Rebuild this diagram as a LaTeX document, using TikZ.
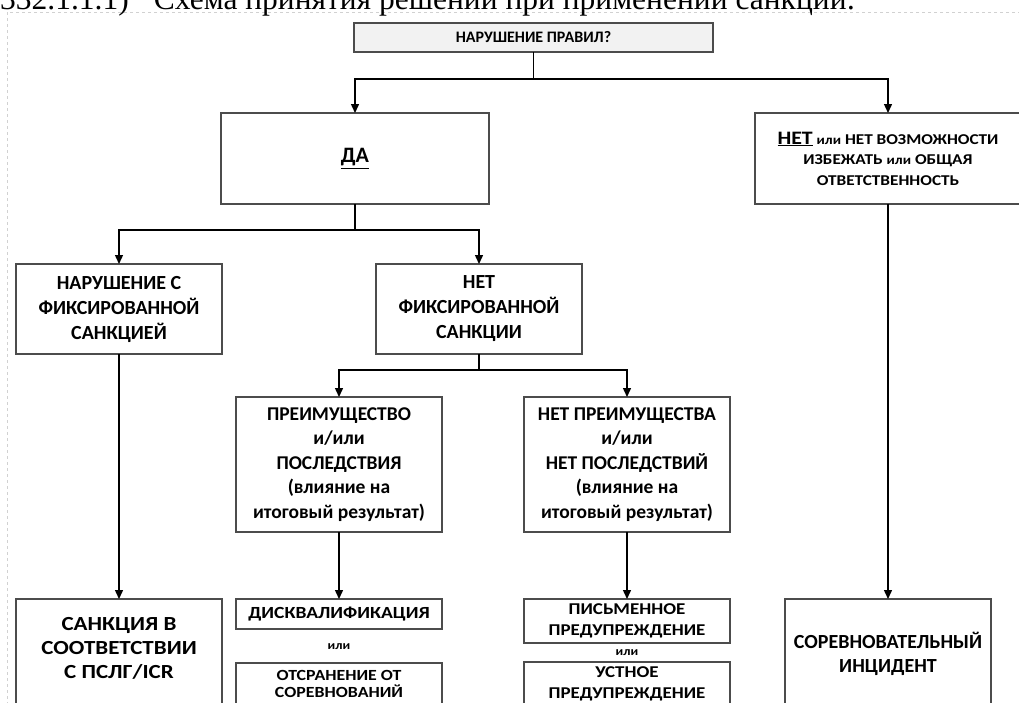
\documentclass[tikz,border=0pt]{standalone}
\usepackage{fontspec}
\setmainfont{Carlito}
\newfontfamily\widefont{Carlito}[FakeStretch=1.15]
\newfontfamily\titlefont{Liberation Serif}
\usetikzlibrary{arrows.meta}

\begin{document}
\begin{tikzpicture}[x=1pt,y=-1pt,
  box/.style={draw=black!70, line width=1.4pt, inner sep=0pt, outer sep=0pt, align=center,
    font=\bfseries\fontsize{20}{25}\selectfont, minimum width=206pt, minimum height=90pt},
  small/.style={font=\widefont\bfseries\fontsize{16.5}{21}\selectfont},
  ili/.style={font=\widefont\bfseries\fontsize{12}{14}\selectfont, inner sep=0pt},
  ln/.style={draw, line width=1.4pt},
  arr/.style={draw, line width=1.4pt, -{Triangle[length=9pt,width=8pt]}}]
\useasboundingbox (0,0) rectangle (1019,702);
\clip (0,0) rectangle (1019,702);
\draw[black!18, dashed, line width=0.8pt] (7,12) rectangle (1040,740);
\node[anchor=base west, inner sep=0pt, font=\titlefont\fontsize{31.5}{36}\selectfont] (0) at (0,9) {332.1.1.1)\hspace{25pt}Схема принятия решений при применении санкции:};
\node[box, fill=black!5, minimum width=359pt, minimum height=29pt, font=\bfseries\fontsize{16}{18}\selectfont] (1) at (533.5,37.5) {НАРУШЕНИЕ ПРАВИЛ?};
\node[box, minimum width=268pt, minimum height=91pt, font=\bfseries\fontsize{22}{25}\selectfont] (2) at (355,158.5) {\underline{ДА}};
\node[box, minimum width=266pt, minimum height=91pt, font=\widefont\bfseries\fontsize{15}{20.5}\selectfont] (3) at (888,158.5)
  {{\fontsize{19}{21}\selectfont\underline{НЕТ}} {\fontsize{13}{15}\selectfont или} НЕТ ВОЗМОЖНОСТИ\\ИЗБЕЖАТЬ {\fontsize{13}{15}\selectfont или} ОБЩАЯ\\ОТВЕТСТВЕННОСТЬ};
\node[box] (4) at (119,309) {НАРУШЕНИЕ С\\ФИКСИРОВАННОЙ\\САНКЦИЕЙ};
\node[box] (5) at (479,309) {НЕТ\\ФИКСИРОВАННОЙ\\САНКЦИИ};
\node[box, minimum height=135pt, font=\bfseries\fontsize{19.5}{24.4}\selectfont] (6) at (339,464.5) {ПРЕИМУЩЕСТВО\\и/или\\ПОСЛЕДСТВИЯ\\(влияние на\\итоговый результат)};
\node[box, minimum height=135pt, font=\bfseries\fontsize{19.5}{24.4}\selectfont] (7) at (627,464.5) {НЕТ ПРЕИМУЩЕСТВА\\и/или\\НЕТ ПОСЛЕДСТВИЙ\\(влияние на\\итоговый результат)};
\node[box, anchor=north, minimum height=0pt, text height=79.4pt, text depth=41.6pt, font=\widefont\bfseries\fontsize{20}{24}\selectfont] (8) at (119,599) {САНКЦИЯ В\\СООТВЕТСТВИИ\\С ПСЛГ/ICR};
\node[box, small, minimum height=30pt, font=\widefont\bfseries\fontsize{17}{21}\selectfont] (9) at (339,614) {ДИСКВАЛИФИКАЦИЯ};
\node[ili] (10) at (339,647) {или};
\node[box, anchor=north, minimum height=42pt, font=\widefont\bfseries\fontsize{15.5}{16.7}\selectfont] (11) at (339,663) {ОТСРАНЕНИЕ ОТ\\СОРЕВНОВАНИЙ};
\node[box, small, minimum height=44pt] (12) at (627,621) {ПИСЬМЕННОЕ\\ПРЕДУПРЕЖДЕНИЕ};
\node[ili] (13) at (627,653) {или};
\node[box, small, anchor=north, minimum height=44pt] (14) at (627,662) {УСТНОЕ\\ПРЕДУПРЕЖДЕНИЕ};
\node[box, anchor=north, minimum height=110pt, font=\bfseries\fontsize{20}{24}\selectfont] (15) at (888,599) {СОРЕВНОВАТЕЛЬНЫЙ\\ИНЦИДЕНТ};
\coordinate (a) at (533.5,79);
\coordinate (b) at (355,230);
\coordinate (c) at (479,370);
\path[ln] (1) -- (a);
\path[arr] (a) -| (2);
\path[arr] (a) -| (3);
\path[ln] (2) -- (b);
\path[arr] (b) -| (4);
\path[arr] (b) -| (5);
\path[ln] (5) -- (c);
\path[arr] (c) -| (6);
\path[arr] (c) -| (7);
\path[arr] (4) -- (8);
\path[arr] (6) -- (9);
\path[arr] (7) -- (12);
\path[arr] (3) -- (15);
\end{tikzpicture}
\end{document}
